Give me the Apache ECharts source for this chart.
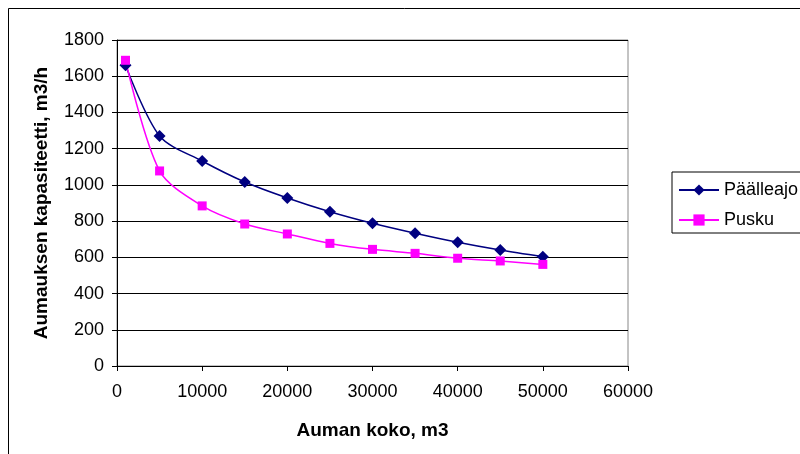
<!DOCTYPE html>
<html>
<head>
<meta charset="utf-8">
<script src="https://cdn.jsdelivr.net/npm/echarts@6/dist/echarts.min.js"></script>
<style>
html, body { margin: 0; padding: 0; background: #fff; }
#main { width: 800px; height: 454px; }
</style>
</head>
<body>
<div id="main"></div>
<script>
// aumakoko (m3)
var koko = [1000, 5000, 10000, 15000, 20000, 25000, 30000, 35000, 40000, 45000, 50000];
// kapasiteetti m3/h
var paalleajo = [1660, 1270, 1132, 1016, 928, 852, 788, 733, 683, 640, 603];
var pusku = [1688, 1077, 884, 784, 729, 677, 644, 622, 595, 580, 561];

function pairs(xs, ys) {
	var out = [];
	for (var i = 0; i < xs.length; i++) out.push([xs[i], ys[i]]);
	return out;
}

var chart = echarts.init(document.getElementById('main'));
var fnt = 'Liberation Sans, Arial, sans-serif';
var plain = function(v) { return String(v); };

var option = {
	animation: false,
	backgroundColor: '#fff',
	textStyle: { fontFamily: fnt },
	graphic: [{
		type: 'rect',
		shape: { x: 8.5, y: 8.5, width: 820, height: 480 },
		style: { fill: 'none', stroke: '#000', lineWidth: 1 },
		silent: true
	}],
	grid: { left: 117, top: 40, width: 511, height: 326, show: true, borderColor: '#888', borderWidth: 1 },
	legend: {
		left: 672, top: 172,
		orient: 'vertical',
		itemWidth: 40, itemHeight: 14, itemGap: 10,
		padding: [8, 40, 3, 6],
		borderColor: '#000', borderWidth: 1,
		textStyle: { fontSize: 18, lineHeight: 20, color: '#000', fontFamily: fnt },
		data: ['Päälleajo', 'Pusku']
	},
	xAxis: {
		type: 'value', min: 0, max: 60000, interval: 10000,
		name: 'Auman koko, m3', nameLocation: 'middle', nameGap: 55,
		nameTextStyle: { fontSize: 19, fontWeight: 'bold', color: '#000', fontFamily: fnt },
		axisLine: { lineStyle: { color: '#000' } },
		axisTick: { show: true, length: 5, lineStyle: { color: '#000' } },
		axisLabel: { fontSize: 18, color: '#000', margin: 17, fontFamily: fnt, formatter: plain },
		splitLine: { show: false }
	},
	yAxis: {
		type: 'value', min: 0, max: 1800, interval: 200,
		name: 'Aumauksen kapasiteetti, m3/h', nameLocation: 'middle', nameGap: 66,
		nameTextStyle: { fontSize: 19, fontWeight: 'bold', color: '#000', fontFamily: fnt },
		axisLine: { show: true, lineStyle: { color: '#000' } },
		axisTick: { show: true, length: 5, lineStyle: { color: '#000' } },
		axisLabel: { fontSize: 18, color: '#000', margin: 13, fontFamily: fnt, formatter: plain },
		splitLine: { show: true, lineStyle: { color: '#000', width: 1 } }
	},
	series: [
		{
			name: 'Päälleajo', type: 'line', smooth: 0.3,
			data: pairs(koko, paalleajo),
			symbol: 'diamond', symbolSize: 12,
			lineStyle: { color: '#000080', width: 1.5 },
			itemStyle: { color: '#000080' }
		},
		{
			name: 'Pusku', type: 'line', smooth: 0.3,
			data: pairs(koko, pusku),
			symbol: 'rect', symbolSize: 9,
			lineStyle: { color: '#ff00ff', width: 1.5 },
			itemStyle: { color: '#ff00ff' }
		}
	]
};

chart.setOption(option);
</script>
</body>
</html>
